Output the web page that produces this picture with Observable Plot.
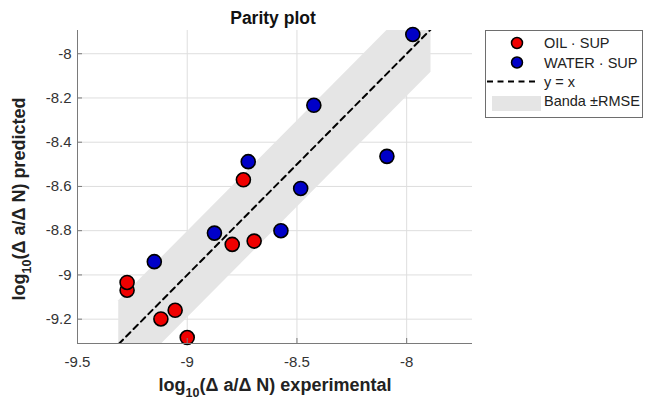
<!DOCTYPE html>
<html><head><meta charset="utf-8">
<script src="https://cdn.jsdelivr.net/npm/d3@7"></script>
<script src="https://cdn.jsdelivr.net/npm/@observablehq/plot@0.6"></script>
<style>body{margin:0;background:#fff;} #chart svg{display:block;}</style>
</head><body><div id="chart"></div>
<script>
// ---- data ----
const oilX   = [-9.274, -9.274, -9.000, -9.120, -9.055, -8.795, -8.695, -8.744];
const oilY   = [-9.069, -9.034, -9.283, -9.199, -9.160, -8.862, -8.847, -8.570];
const waterX = [-9.150, -8.876, -8.573, -8.483, -8.722, -8.423, -8.090, -7.972];
const waterY = [-8.940, -8.811, -8.800, -8.609, -8.488, -8.233, -8.464, -7.913];
const bandX  = [-9.312, -7.889];
const RMSE   = 0.195;
const xTicks = [-9.5, -9, -8.5, -8];
const yTicks = [-9.2, -9, -8.8, -8.6, -8.4, -8.2, -8];
const seriesNames = ["OIL · SUP", "WATER · SUP"];
const seriesColors = ["#f00000", "#0000c8"];
const refName = "y = x";
const bandName = "Banda ±RMSE";
const titleText = "Parity plot";

const oil = oilX.map((x, i) => ({x, y: oilY[i]}));
const water = waterX.map((x, i) => ({x, y: waterY[i]}));
const FONT = "'Liberation Sans', Arial, Helvetica, sans-serif";
const DASH = "6,4.5";
const AXIS = "#7a7a7a";

const plot = Plot.plot({
  width: 645, height: 403,
  marginLeft: 77, marginRight: 173, marginTop: 30, marginBottom: 60,
  style: {fontFamily: FONT, fontSize: "15px", color: "#333", background: "#fff"},
  x: {domain: [-9.5, -7.7], label: null},
  y: {domain: [-9.31, -7.895], label: null},
  marks: [
    Plot.gridX(xTicks, {stroke: "#dedede", strokeOpacity: 1}),
    Plot.gridY(yTicks, {stroke: "#dedede", strokeOpacity: 1}),
    Plot.areaY(bandX, {x: d => d, y1: d => d - RMSE, y2: d => d + RMSE, fill: "#e5e5e5", clip: true}),
    Plot.line(bandX, {x: d => d, y: d => d, stroke: "#000", strokeWidth: 2, strokeDasharray: DASH, clip: true}),
    Plot.dot(oil, {x: "x", y: "y", r: 7, fill: seriesColors[0], stroke: "#000", strokeWidth: 1.6}),
    Plot.dot(water, {x: "x", y: "y", r: 7, fill: seriesColors[1], stroke: "#000", strokeWidth: 1.6}),
    // inward tick marks
    Plot.axisX(xTicks, {tickSize: 5, dy: -5, tickFormat: () => "", stroke: AXIS}),
    Plot.axisY(yTicks, {tickSize: 5, dx: 5, tickFormat: () => "", stroke: AXIS}),
    // labels
    Plot.axisX(xTicks, {tickSize: 0, tickPadding: 13, tickFormat: d => String(d), fill: "#333"}),
    Plot.axisY(yTicks, {tickSize: 0, tickPadding: 6, tickFormat: d => String(d), fill: "#333"}),
    Plot.ruleX([-9.5], {stroke: AXIS, strokeWidth: 1}),
    Plot.ruleY([-9.31], {stroke: AXIS, strokeWidth: 1})
  ]
});

const svg = d3.select(plot);

// title
svg.append("text").attr("x", 273).attr("y", 23.5).attr("text-anchor", "middle")
  .attr("font-family", FONT).attr("font-weight", "bold").attr("font-size", 17.5).attr("fill", "#111")
  .text(titleText);

function sublabel(g, rest) {
  g.append("tspan").text("log");
  g.append("tspan").attr("dy", 6).attr("font-size", 12.5).text("10");
  g.append("tspan").attr("dy", -6).text(rest);
}
// x label
const xl = svg.append("text").attr("x", 275).attr("y", 391).attr("text-anchor", "middle")
  .attr("font-family", FONT).attr("font-weight", "bold").attr("font-size", 18).attr("fill", "#222");
sublabel(xl, "(\u0394 a/\u0394 N) experimental");
// y label
const yl = svg.append("text").attr("transform", "translate(25,199) rotate(-90)").attr("text-anchor", "middle")
  .attr("font-family", FONT).attr("font-weight", "bold").attr("font-size", 18).attr("fill", "#222");
sublabel(yl, "(\u0394 a/\u0394 N) predicted");

// legend
const lg = svg.append("g").attr("font-family", FONT).attr("font-size", 14.5).attr("fill", "#222")
  .attr("text-anchor", "start");
lg.append("rect").attr("x", 485.5).attr("y", 30.5).attr("width", 157).attr("height", 87)
  .attr("fill", "#fff").attr("stroke", "#6e6e6e");
const rows = [43, 62.5, 81.5, 100.5];
seriesNames.forEach((name, i) => {
  lg.append("circle").attr("cx", 517).attr("cy", rows[i]).attr("r", 5.5)
    .attr("fill", seriesColors[i]).attr("stroke", "#000").attr("stroke-width", 1.5);
  lg.append("text").attr("x", 544).attr("y", rows[i]).attr("dy", "0.36em").text(name);
});
lg.append("line").attr("x1", 487).attr("x2", 535).attr("y1", rows[2]).attr("y2", rows[2])
  .attr("stroke", "#000").attr("stroke-width", 2).attr("stroke-dasharray", DASH);
lg.append("text").attr("x", 544).attr("y", rows[2]).attr("dy", "0.36em").text(refName);
lg.append("rect").attr("x", 492).attr("y", 96).attr("width", 49).attr("height", 15).attr("fill", "#e5e5e5");
lg.append("text").attr("x", 544).attr("y", rows[3]).attr("dy", "0.36em").text(bandName);

document.getElementById("chart").appendChild(plot);
</script>
</body></html>
